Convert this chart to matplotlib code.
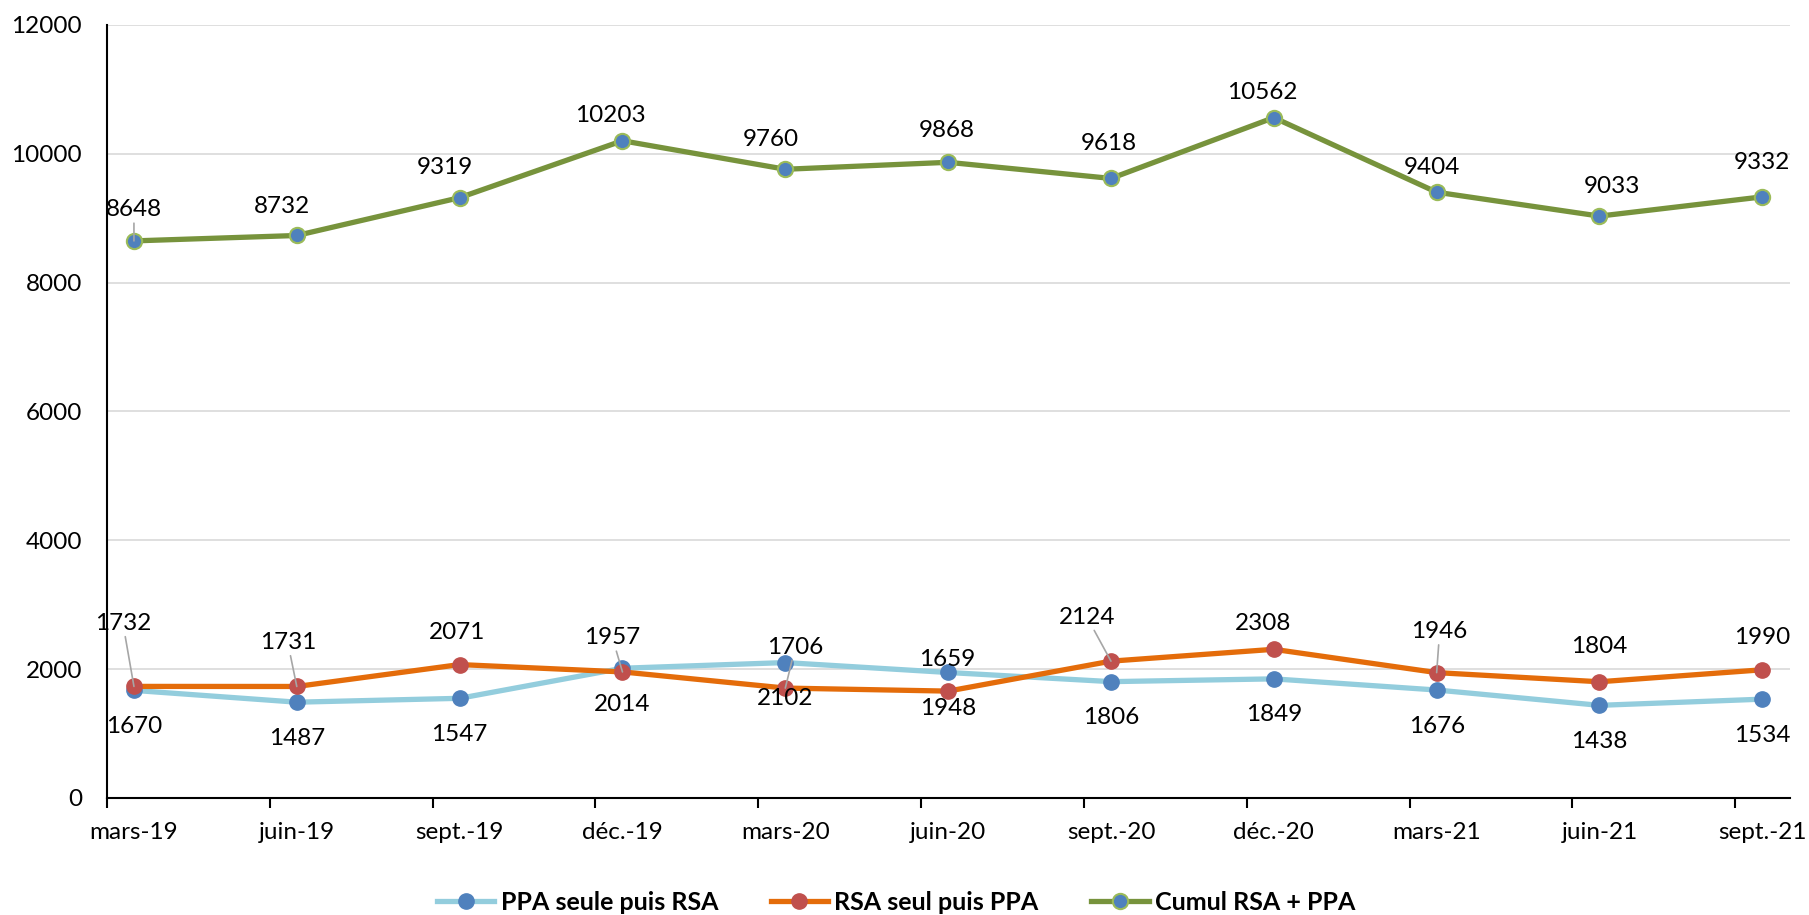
import numpy as np
import matplotlib
matplotlib.use("Agg")
import matplotlib.pyplot as plt

#---- Data -------------------------------------------------------------------#

mois = ['mars-19', 'juin-19', 'sept.-19', 'déc.-19', 'mars-20', 'juin-20',
        'sept.-20', 'déc.-20', 'mars-21', 'juin-21', 'sept.-21']

ppa_puis_rsa = [1670, 1487, 1547, 2014, 2102, 1948, 1806, 1849, 1676, 1438, 1534]
rsa_puis_ppa = [1732, 1731, 2071, 1957, 1706, 1659, 2124, 2308, 1946, 1804, 1990]
cumul = [8648, 8732, 9319, 10203, 9760, 9868, 9618, 10562, 9404, 9033, 9332]

noms = ['PPA seule puis RSA', 'RSA seul puis PPA', 'Cumul RSA + PPA']

#---- Label placement (pixels from the point, y up) --------------------------#

off_cumul = [(0, 31), (-15, 29), (-15, 30), (-12, 25), (-14, 30), (-1, 32),
             (-2, 35), (-12, 25), (-5, 25), (12, 30), (0, 34)]
off_rsa = [(-11, 63), (-9, 44), (-3, 32), (-10, 34), (10, 41), (-1, 32),
           (-24, 44), (-11, 26), (3, 41), (0, 35), (0, 32)]
off_ppa = [(0, -36)] * 11
lead_cumul = [0] * 11
lead_cumul[0] = 1
lead_rsa = [1, 1, 0, 1, 1, 0, 1, 0, 1, 0, 0]
lead_ppa = [0] * 11

#---- Plotting ---------------------------------------------------------------#

plt.rcParams['font.family'] = ['Lato', 'DejaVu Sans']
fs = 17.5

fig = plt.figure(figsize=(18.09, 9.15), dpi=100)
ax = fig.add_axes([0.0591, 0.1279, 0.9895 - 0.0591, 0.9727 - 0.1279])

x = np.arange(len(mois))

ax.plot(x, ppa_puis_rsa, color='#93CDDD', lw=3.8, marker='o', ms=11,
        mfc='#4F81BD', mec='#4F81BD', label=noms[0], zorder=3)
ax.plot(x, rsa_puis_ppa, color='#E46C0A', lw=3.8, marker='o', ms=11,
        mfc='#C0504D', mec='#C0504D', label=noms[1], zorder=4)
ax.plot(x, cumul, color='#77933C', lw=3.8, marker='o', ms=11,
        mfc='#4F81BD', mec='#9BBB59', mew=1.5, label=noms[2], zorder=4)

def labels(vals, offs, leads):
    for xi, v, (dx, dy), ld in zip(x, vals, offs, leads):
        ap = None
        if ld:
            ap = dict(arrowstyle='-', color='#A6A6A6', lw=1.2,
                      shrinkA=0, shrinkB=0)
        ax.annotate(str(v), xy=(xi, v), xytext=(dx, dy),
                    textcoords='offset pixels', ha='center', va='center',
                    fontsize=fs, color='black', arrowprops=ap, zorder=6)

labels(cumul, off_cumul, lead_cumul)
labels(rsa_puis_ppa, off_rsa, lead_rsa)
labels(ppa_puis_rsa, off_ppa, lead_ppa)

#---- Axes -------------------------------------------------------------------#

ax.set_xlim(-0.166, 10.17)
ax.set_ylim(0, 12000)
ax.set_yticks(np.arange(0, 12001, 2000))
ax.yaxis.grid(True, color='#D9D9D9', lw=1.2)
ax.set_axisbelow(True)
ax.tick_params(axis='y', length=0, pad=18, labelsize=fs)

ax.set_xticks(x)
ax.set_xticklabels(mois)
ax.set_xticks(x - 0.166, minor=True)
ax.tick_params(axis='x', which='major', length=0, pad=17, labelsize=fs)
ax.tick_params(axis='x', which='minor', length=7, width=1.5, color='black')

for s in ['top', 'right']:
    ax.spines[s].set_visible(False)
for s in ['left', 'bottom']:
    ax.spines[s].set_linewidth(1.5)
    ax.spines[s].set_color('black')

fig.legend(loc='center', bbox_to_anchor=(0.4953, 0.014), ncol=3,
           frameon=False, handlelength=2.3, handletextpad=0.25,
           columnspacing=2.1, prop={'weight': 'bold', 'size': 18})

fig.savefig('out.png', dpi=100)
